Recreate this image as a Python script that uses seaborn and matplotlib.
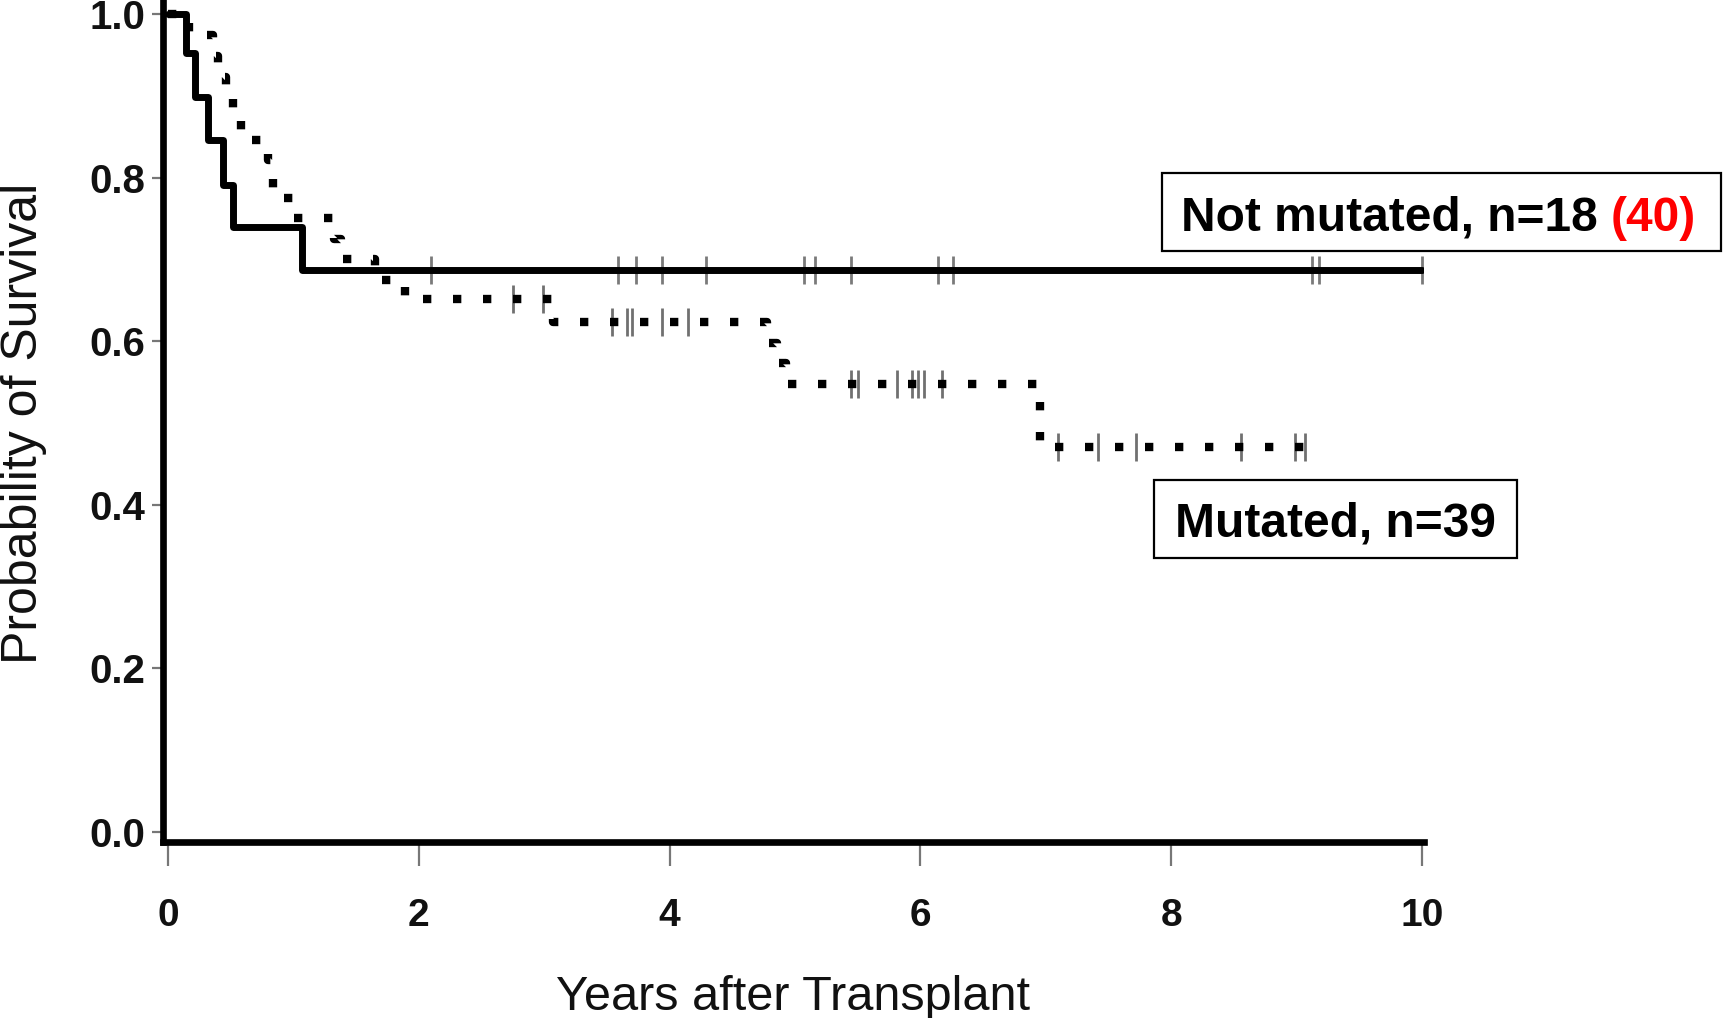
import matplotlib
matplotlib.use("Agg")
import matplotlib.pyplot as plt
import seaborn as sns
import numpy as np
import pandas as pd
from matplotlib.patches import Rectangle

# ---- Kaplan-Meier estimates (years after transplant, survival probability) ----
not_mut_times = [0.0, 0.14, 0.215, 0.32, 0.44, 0.52, 1.07, 10.0]
not_mut_surv = [1.0, 0.952, 0.899, 0.846, 0.791, 0.740, 0.687, 0.687]
not_mut_censor = [2.10, 3.59, 3.73, 3.94, 4.29, 5.07, 5.16, 5.45, 6.14, 6.26,
                  9.12, 9.18, 10.0]

mut_times = [0.0, 0.17, 0.36, 0.40, 0.46, 0.52, 0.58, 0.80, 0.84, 1.00, 1.32,
             1.38, 1.65, 1.89, 3.07, 4.78, 4.86, 4.93, 6.95, 9.07]
mut_surv = [1.0, 0.974, 0.949, 0.923, 0.897, 0.872, 0.846, 0.821, 0.775, 0.750,
            0.725, 0.700, 0.675, 0.652, 0.624, 0.598, 0.573, 0.548, 0.471, 0.471]
mut_censor = [2.75, 2.99, 3.54, 3.66, 3.70, 3.94, 4.15, 5.45, 5.50, 5.81, 5.93,
              5.98, 6.03, 6.17, 7.10, 7.42, 7.72, 8.56, 8.99, 9.07]

x_ticks = [0, 2, 4, 6, 8, 10]
y_ticks = [0.0, 0.2, 0.4, 0.6, 0.8, 1.0]

label_not_mut = "Not mutated, n=18 "
label_not_mut_extra = "(40)"
label_mut = "Mutated, n=39"

W, H = 1723, 1018

sns.set_style("ticks")
plt.rcParams["font.family"] = ["Liberation Sans", "DejaVu Sans"]

fig = plt.figure(figsize=(W / 100, H / 100), dpi=100)
ax = fig.add_axes([163 / W, 1 - 842 / H, (1424 - 163) / W, 842 / H])


def step_value(times, surv, t):
    idx = np.searchsorted(times, t, side="right") - 1
    return np.asarray(surv)[idx]


df_nm = pd.DataFrame({"years": not_mut_times, "surv": not_mut_surv})
df_m = pd.DataFrame({"years": mut_times, "surv": mut_surv})

# censoring marks (drawn beneath the curves)
cens_nm = pd.DataFrame({"years": not_mut_censor,
                        "surv": step_value(not_mut_times, not_mut_surv, not_mut_censor)})
cens_m = pd.DataFrame({"years": mut_censor,
                       "surv": step_value(mut_times, mut_surv, mut_censor)})
sns.scatterplot(data=cens_nm, x="years", y="surv", marker="|", s=380,
                linewidth=2.0, color="#7a7a7a", ax=ax, zorder=2, legend=False)
sns.scatterplot(data=cens_m, x="years", y="surv", marker="|", s=380,
                linewidth=2.0, color="#707070", ax=ax, zorder=2, legend=False)

# survival curves
sns.lineplot(data=df_nm, x="years", y="surv", drawstyle="steps-post",
             color="black", linewidth=5, estimator=None, sort=False,
             ax=ax, zorder=3)
sns.lineplot(data=df_m, x="years", y="surv", drawstyle="steps-post",
             color="black", linewidth=6, linestyle=(0, (1, 2.6)),
             estimator=None, sort=False, ax=ax, zorder=3)

ax.set_xlim(-0.04, 10.016)
ax.set_ylim(-0.0122, 1.0171)
ax.set_xticks(x_ticks)
ax.set_xticklabels([str(v) for v in x_ticks])
ax.set_yticks(y_ticks)
ax.set_yticklabels([f"{v:.1f}" for v in y_ticks])

sns.despine(ax=ax)
for side in ("left", "bottom"):
    ax.spines[side].set_linewidth(4.8)
    ax.spines[side].set_color("black")

ax.tick_params(axis="x", length=17, width=1.6, color="#777777", pad=23,
               labelsize=28, labelcolor="#111111")
ax.tick_params(axis="y", length=8, width=1.6, color="#777777", pad=5,
               labelsize=29, labelcolor="#111111")
for lbl in ax.get_xticklabels() + ax.get_yticklabels():
    lbl.set_fontweight("bold")

ax.set_xlabel("Years after Transplant", fontsize=35, color="#111111", va="center")
ax.xaxis.set_label_coords((793 - 163) / (1424 - 163), (842 - 998) / 842)
ax.set_ylabel("Probability of Survival", fontsize=36, color="#111111", va="center")
ax.yaxis.set_label_coords((24 - 163) / (1424 - 163), (842 - 423) / 842)


def fx(px):
    return px / W


def fy(py):
    return 1 - py / H


# labelled boxes
for (x0, y0, x1, y1) in [(1162, 173, 1721, 251), (1154, 480, 1517, 558)]:
    fig.add_artist(Rectangle((fx(x0), fy(y1)), fx(x1) - fx(x0), fy(y0) - fy(y1),
                             transform=fig.transFigure, fill=False,
                             edgecolor="black", linewidth=1.6))

t1 = fig.text(fx(1181), fy(231), label_not_mut, fontsize=34.5, fontweight="bold",
              ha="left", va="baseline", color="black")
fig.canvas.draw()
bb = t1.get_window_extent(renderer=fig.canvas.get_renderer())
fig.text(bb.x1 / W, fy(231), label_not_mut_extra, fontsize=34.5, fontweight="bold",
         ha="left", va="baseline", color="#ff0000")

fig.text(fx(1335), fy(536), label_mut, fontsize=34.5, fontweight="bold",
         ha="center", va="baseline", color="black")

fig.savefig("out.png", dpi=100)
